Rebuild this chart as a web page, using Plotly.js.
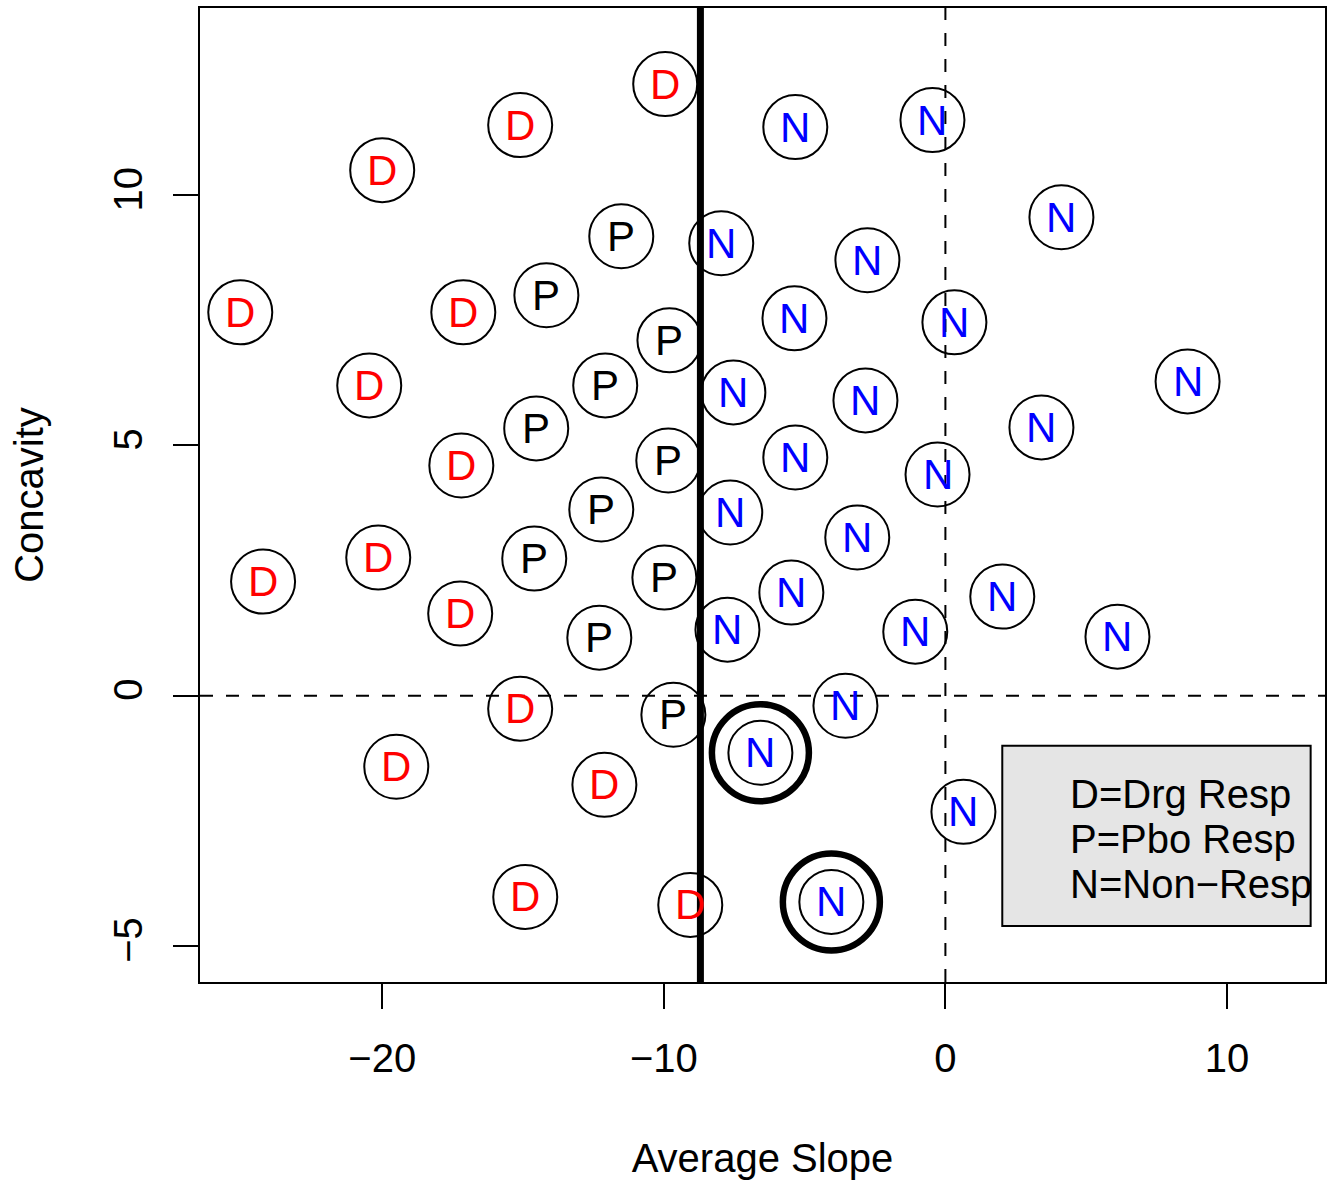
<!DOCTYPE html>
<html>
<head>
<meta charset="utf-8">
<script src="https://cdn.plot.ly/plotly-3.0.1.min.js"></script>
<style>html,body{margin:0;padding:0;background:#fff;}#chart{width:1334px;height:1180px;}</style>
</head>
<body>
<div id="chart"></div>
<script>
// Drug responders (D)
const dX = [-9.95, -15.10, -20.0, -25.04, -17.12, -20.46, -17.19, -20.14, -24.23, -17.23, -15.10, -19.50, -12.11, -14.92, -9.06];
const dY = [12.22, 11.40, 10.50, 7.66, 7.66, 6.20, 4.60, 2.76, 2.28, 1.64, -0.26, -1.42, -1.78, -4.02, -4.18];
// Placebo responders (P)
const pX = [-11.51, -14.17, -9.80, -12.08, -14.53, -9.84, -12.22, -14.60, -9.98, -12.29, -9.66];
const pY = [9.18, 8.00, 7.10, 6.20, 5.34, 4.70, 3.72, 2.74, 2.36, 1.16, -0.38];
// Non-responders (N)
const nX = [-5.33, -0.46, 4.12, -7.96, -2.77, -5.36, 0.32, 8.60, -7.53, -2.84, 3.41, -5.33, -0.28, -7.64, -3.13, -5.47, 2.02, -1.07, 6.11, -7.74, -3.55, -6.57, 0.64, -4.05];
const nY = [11.36, 11.50, 9.56, 9.04, 8.70, 7.54, 7.46, 6.28, 6.06, 5.90, 5.36, 4.76, 4.42, 3.66, 3.16, 2.06, 1.98, 1.28, 1.18, 1.32, -0.20, -1.14, -2.32, -4.12];
// Highlighted (double-circled) non-responders, indices into nX/nY
const highlighted = [21, 23];
// Cut-off on average slope
const slopeCut = -8.70;
// Legend text
const legendLines = ["D=Drg Resp", "P=Pbo Resp", "N=Non\u2212Resp"];
const legendBox = {x0: 2.02, x1: 12.97, y0: -1.0, y1: -4.6};
const legendTextX = 4.37;
const legendTextY = [-1.96, -2.86, -3.76];

const FONT = "Liberation Sans, Arial, Helvetica, sans-serif";

const groups = [
  {xs: dX, ys: dY, letter: 'D', color: '#FF0000'},
  {xs: pX, ys: pY, letter: 'P', color: '#000000'},
  {xs: nX, ys: nY, letter: 'N', color: '#0000FF'}
];

const traces = groups.map(g => ({
  x: g.xs, y: g.ys, type: 'scatter', mode: 'markers',
  marker: {symbol: 'circle-open', size: 64, color: '#000', line: {width: 2, color: '#000'}},
  hoverinfo: 'skip', showlegend: false, cliponaxis: false
}));
traces.push({
  x: highlighted.map(i => nX[i]), y: highlighted.map(i => nY[i]),
  type: 'scatter', mode: 'markers',
  marker: {symbol: 'circle-open', size: 97, color: '#000', line: {width: 6.5, color: '#000'}},
  hoverinfo: 'skip', showlegend: false
});

const shapes = [
  {type: 'line', xref: 'x', yref: 'paper', x0: 0, x1: 0, y0: 0, y1: 1, layer: 'above', line: {color: '#000', width: 2, dash: '13px,13px'}},
  {type: 'line', xref: 'paper', yref: 'y', x0: 0, x1: 1, y0: 0, y1: 0, layer: 'above', line: {color: '#000', width: 2, dash: '13px,13px'}},
  {type: 'line', xref: 'x', yref: 'paper', x0: slopeCut, x1: slopeCut, y0: 0, y1: 1, layer: 'above', line: {color: '#000', width: 7}},
  {type: 'rect', xref: 'x', yref: 'y', x0: legendBox.x0, x1: legendBox.x1, y0: legendBox.y0, y1: legendBox.y1, layer: 'above', fillcolor: '#E5E5E5', line: {color: '#000', width: 2}}
];

const annotations = [];
groups.forEach(g => {
  g.xs.forEach((x, i) => {
    annotations.push({
      x: x, y: g.ys[i], xref: 'x', yref: 'y', text: g.letter, showarrow: false,
      xanchor: 'center', yanchor: 'middle', font: {family: FONT, size: 42, color: g.color}
    });
  });
});
legendLines.forEach((t, i) => annotations.push({
  x: legendTextX, y: legendTextY[i], xref: 'x', yref: 'y', text: t, showarrow: false,
  xanchor: 'left', yanchor: 'middle', font: {family: FONT, size: 40, color: '#000'}
}));

const layout = {
  width: 1334, height: 1180,
  margin: {l: 200, r: 9, t: 8, b: 198},
  paper_bgcolor: '#fff', plot_bgcolor: '#fff',
  font: {family: FONT, size: 40, color: '#000'},
  xaxis: {
    range: [-26.47, 13.48], tickvals: [-20, -10, 0, 10],
    showgrid: false, zeroline: false, showline: true, mirror: true, linecolor: '#000', linewidth: 2,
    ticks: 'outside', ticklen: 25, tickwidth: 2, tickcolor: '#000',
    tickfont: {family: FONT, size: 40, color: '#000'}, ticklabelstandoff: 15,
    title: {text: 'Average Slope', font: {family: FONT, size: 40, color: '#000'}, standoff: 65}
  },
  yaxis: {
    range: [-5.72, 13.74], tickvals: [-5, 0, 5, 10], tickangle: -90,
    showgrid: false, zeroline: false, showline: true, mirror: true, linecolor: '#000', linewidth: 2,
    ticks: 'outside', ticklen: 25, tickwidth: 2, tickcolor: '#000',
    tickfont: {family: FONT, size: 40, color: '#000'}, ticklabelstandoff: 15,
    title: {text: 'Concavity', font: {family: FONT, size: 40, color: '#000'}, standoff: 50}
  },
  shapes: shapes,
  annotations: annotations,
  showlegend: false
};

Plotly.newPlot('chart', traces, layout, {displayModeBar: false, staticPlot: true});
</script>
</body>
</html>
